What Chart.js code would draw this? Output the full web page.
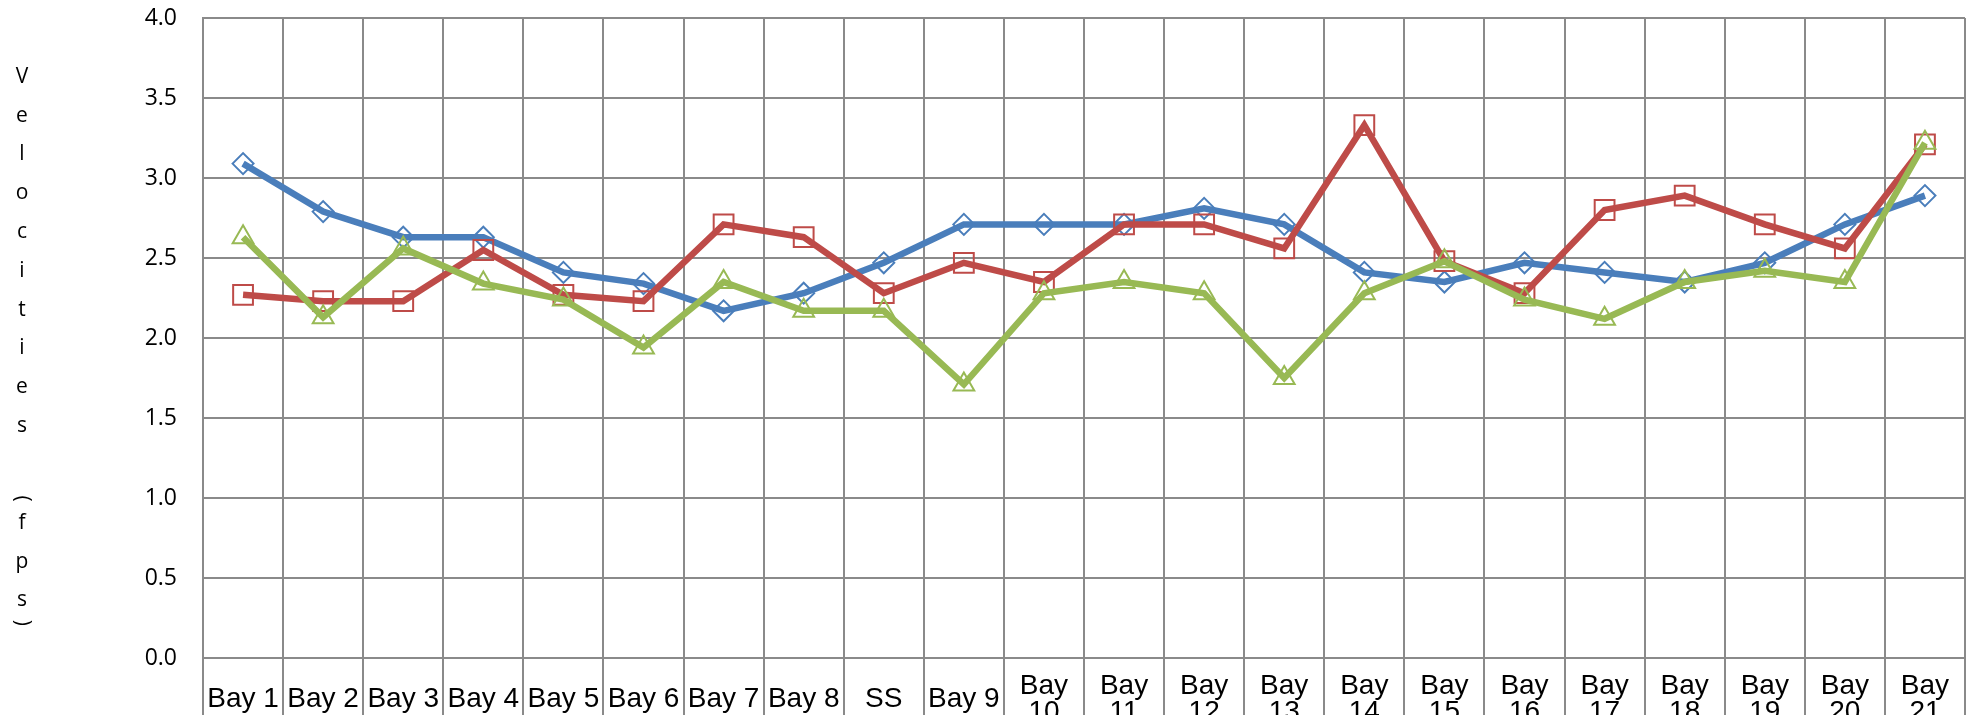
<!DOCTYPE html>
<html>
<head>
<meta charset="utf-8">
<script src="https://cdn.jsdelivr.net/npm/chart.js@4.4.1/dist/chart.umd.min.js"></script>
<style>
  html, body { margin: 0; padding: 0; background: #fff; overflow: hidden; }
  #wrap { position: relative; width: 1981px; height: 745px; }
</style>
</head>
<body>
<div id="wrap"><canvas id="velChart"></canvas></div>
<script>
// Categories along the channel
const categories = ["Bay 1", "Bay 2", "Bay 3", "Bay 4", "Bay 5", "Bay 6", "Bay 7", "Bay 8", "SS",
    "Bay 9", "Bay 10", "Bay 11", "Bay 12", "Bay 13", "Bay 14", "Bay 15", "Bay 16", "Bay 17",
    "Bay 18", "Bay 19", "Bay 20", "Bay 21"];

// Velocities (fps)
const blueSeries = [3.09, 2.79, 2.63, 2.63, 2.41, 2.34, 2.17, 2.28, 2.47, 2.71, 2.71,
    2.71, 2.81, 2.71, 2.41, 2.35, 2.47, 2.41, 2.35, 2.47, 2.71, 2.89];
const redSeries = [2.27, 2.23, 2.23, 2.55, 2.27, 2.23, 2.71, 2.63, 2.28, 2.47, 2.35,
    2.71, 2.71, 2.56, 3.33, 2.48, 2.28, 2.80, 2.89, 2.71, 2.56, 3.21];
const greenSeries = [2.63, 2.13, 2.56, 2.34, 2.24, 1.94, 2.35, 2.17, 2.17, 1.71, 2.28,
    2.35, 2.28, 1.75, 2.28, 2.48, 2.24, 2.12, 2.35, 2.42, 2.35, 3.22];

// Y axis ticks
const yTicks = [0, 0.5, 1.0, 1.5, 2.0, 2.5, 3.0, 3.5, 4.0];
const yTitle = "Velocities (fps)";

const gridColor = "#8a8a8a";

// Stacked vertical axis title, one character per line (parentheses turned)
const stackedTitle = {
    id: "stackedTitle",
    afterDraw(chart) {
        const ctx = chart.ctx;
        ctx.save();
        ctx.font = "21px 'Open Sans'";
        ctx.fillStyle = "#000";
        ctx.textAlign = "center";
        ctx.textBaseline = "middle";
        let y = 57.5;
        for (const ch of yTitle) {
            let adv = 38.8;
            if (ch === " ") adv = 48;
            if (ch === "(") adv = 10;
            if (ch === ")") adv = 6;
            const cy = y + adv / 2;
            if (ch === "(" || ch === ")") {
                ctx.save();
                ctx.translate(22, cy);
                ctx.rotate(Math.PI / 2);
                ctx.fillText(ch, 0, 0);
                ctx.restore();
            } else if (ch !== " ") {
                ctx.fillText(ch, 22, cy);
            }
            y += adv;
        }
        ctx.restore();
    }
};

function makeSeries(label, values, color, shape, radius, order) {
    return {
        label: label,
        data: values,
        borderColor: color,
        borderWidth: 6.5,
        pointStyle: shape,
        pointRadius: radius,
        pointHoverRadius: radius,
        pointBorderColor: color,
        pointBackgroundColor: "rgba(0,0,0,0)",
        pointBorderWidth: 2,
        tension: 0,
        fill: false,
        order: order
    };
}

const ctx = document.getElementById("velChart").getContext("2d");
new Chart(ctx, {
    type: "line",
    data: {
        labels: categories,
        datasets: [
            makeSeries("Series 1", blueSeries, "#4a7ebb", "rectRot", 10.5, 3),
            makeSeries("Series 2", redSeries, "#be4b48", "rect", 14, 2),
            makeSeries("Series 3", greenSeries, "#98b954", "triangle", 12, 1)
        ]
    },
    options: {
        responsive: true,
        maintainAspectRatio: false,
        devicePixelRatio: 1,
        animation: false,
        layout: { padding: { left: 143, right: 2, top: 18, bottom: 0 } },
        plugins: {
            legend: { display: false },
            title: { display: false },
            tooltip: { enabled: false }
        },
        scales: {
            x: {
                offset: true,
                grid: {
                    offset: true,
                    color: gridColor,
                    lineWidth: 2,
                    tickLength: 87,
                    drawTicks: true
                },
                border: { color: gridColor, width: 2 },
                ticks: {
                    autoSkip: false,
                    maxRotation: 0,
                    minRotation: 0,
                    padding: -59,
                    crossAlign: "center",
                    color: "#000",
                    font: { family: "'Liberation Sans', Arial, sans-serif", size: 28, lineHeight: 0.95 },
                    callback: function (value) {
                        const name = categories[value];
                        return name.length > 5 ? name.split(" ") : name;
                    }
                },
                afterFit: function (scale) {
                    scale.height = 87;
                    scale.paddingLeft = 0;
                    scale.paddingRight = 0;
                }
            },
            y: {
                min: 0,
                max: 4,
                afterBuildTicks: function (scale) {
                    scale.ticks = yTicks.map(v => ({ value: v }));
                },
                grid: { color: gridColor, lineWidth: 2, drawTicks: false },
                border: { color: gridColor, width: 2 },
                ticks: {
                    padding: 26,
                    color: "#000",
                    font: { family: "'Open Sans', sans-serif", size: 23 },
                    callback: v => v.toFixed(1)
                },
                afterFit: function (scale) {
                    scale.width = 60;
                    scale.paddingTop = 0;
                    scale.paddingBottom = 0;
                }
            }
        }
    },
    plugins: [stackedTitle]
});
</script>
</body>
</html>
